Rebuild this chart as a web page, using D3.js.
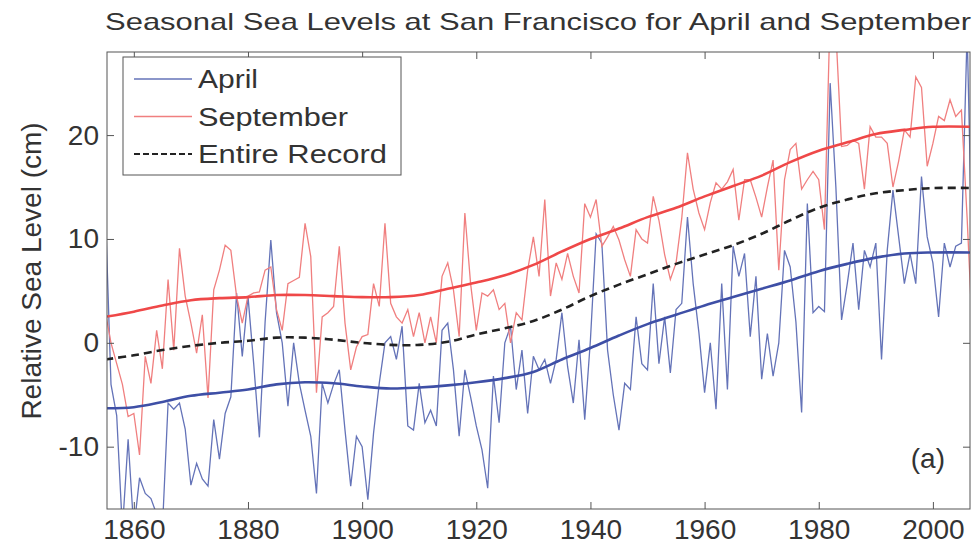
<!DOCTYPE html>
<html>
<head>
<meta charset="utf-8">
<title>Seasonal Sea Levels at San Francisco</title>
<script src="https://cdn.jsdelivr.net/npm/d3@7"></script>
<style>
  body { margin: 0; background: #fff; }
  text { font-family: "Liberation Sans", Arial, Helvetica, sans-serif; fill: #333; }
</style>
</head>
<body>
<script>
// yearly values (cm), 1855..2007
var firstYear = 1855
var april = [
  13, -4, -7, -18, -9.3, -18, -13, -14.5, -15, -16.5,
  -18, -5.8, -6.4, -5.8, -8.3, -13.7, -11.6, -13.1, -13.8, -7.4,
  -11.2, -6.8, -5.2, 4.8, -1.3, 4.5, -2.0, -9.1, 2.0, 9.9,
  2.9, 0.0, -6.1, 0.0, -3.9, -6.5, -9.0, -14.5, -3.9, -5.8,
  -4.0, -2.6, -8.4, -13.8, -9.0, -10.0, -15.1, -8.7, -3.9, 0.0,
  0.6, -1.6, 1.6, -8.0, -8.4, -3.9, -7.7, -6.5, -8.0, 1.2,
  1.9, -2.6, -9.0, -2.6, -5.2, -8.0, -10.3, -14.0, -3.2, -7.7,
  0.0, 1.6, -4.5, -0.7, -6.8, -1.3, -2.6, -1.6, -3.9, -1.6,
  2.9, -2.3, -5.8, 0.3, -7.4, 0.3, 10.5, 9.6, -0.7, -5.0,
  -8.4, -3.9, -4.5, 2.5, -2.0, -2.6, 5.7, -2.0, 2.5, -2.9,
  3.2, 3.8, 12.1, 5.7, 1.0, -4.8, 0.0, -6.4, 5.7, -4.5,
  9.3, 6.4, 8.6, 0.6, 6.4, -3.5, 0.9, -3.2, 0.0, 8.9,
  7.3, 2.0, -6.7, 13.4, 2.9, 3.5, 3.0, 25.0, 15.0, 2.2,
  5.7, 9.6, 3.2, 8.9, 7.3, 9.6, -1.6, 8.9, 14.7, 10.2,
  5.7, 8.6, 5.7, 16.0, 10.2, 7.7, 2.5, 9.6, 7.3, 9.3,
  9.6, 30.0, 5.0
]
var september = [
  3.0, 0.0, -2.0, -4.0, -7.1, -6.8, -10.8, -1.3, -3.9, 1.2,
  -2.5, 6.1, -0.7, 9.1, 4.5, 1.9, -1.0, 2.7, -5.3, 5.1,
  7.0, 9.4, 8.9, 4.5, 1.9, 4.5, 4.8, 4.9, 7.0, 7.3,
  3.2, 1.2, 5.7, 6.0, 6.3, 11.5, 8.3, -4.8, 2.5, 2.9,
  3.5, 9.3, 1.9, -2.6, -0.4, 0.6, 0.8, 5.7, 3.5, 11.5,
  3.8, 2.5, 1.9, 3.2, 0.6, 2.9, 0.0, 2.5, 0.0, 6.4,
  7.7, 5.1, 0.6, 12.5, 5.7, 1.2, 4.8, 4.5, 5.1, 3.2,
  3.8, 0.0, 2.9, 2.2, 7.0, 10.2, 6.4, 13.8, 4.5, 7.7,
  6.1, 8.6, 6.4, 4.8, 13.4, 12.1, 13.8, 9.3, 10.2, 11.2,
  9.9, 8.0, 6.4, 10.9, 10.0, 9.6, 14.1, 11.8, 8.5, 6.1,
  7.7, 12.0, 18.3, 14.8, 12.5, 10.9, 13.5, 15.4, 14.8, 15.5,
  16.7, 11.8, 15.7, 15.7, 14.0, 12.1, 15.0, 17.6, 7.0, 15.7,
  18.6, 19.2, 14.8, 15.7, 16.5, 15.7, 10.9, 32, 30, 18.9,
  19.0, 19.5, 19.2, 14.8, 20.8, 19.8, 19.8, 19.2, 15.0, 17.5,
  20.5, 19.8, 25.6, 24.6, 17.0, 19.2, 21.8, 21.4, 23.4, 21.8,
  22.4, 12.0, 0.0
]

// smoothed curves, read at knot years
var smoothYears = [1855, 1860, 1865, 1870, 1875, 1880, 1885, 1890, 1895, 1900,
  1905, 1910, 1915, 1920, 1925, 1930, 1935, 1940, 1945, 1950,
  1955, 1960, 1965, 1970, 1975, 1980, 1985, 1990, 1995, 2000, 2007]
var aprilSmooth = [-6.3, -6.2, -5.7, -5.1, -4.8, -4.5, -4.0, -3.8, -3.9, -4.2,
  -4.4, -4.3, -4.1, -3.8, -3.4, -2.8, -1.6, -0.5, 0.7, 1.8,
  2.7, 3.6, 4.4, 5.2, 6.0, 6.9, 7.6, 8.2, 8.6, 8.7, 8.7]
var septSmooth = [2.5, 3.0, 3.6, 4.1, 4.3, 4.4, 4.6, 4.6, 4.5, 4.4,
  4.4, 4.6, 5.2, 5.8, 6.5, 7.5, 8.8, 10.0, 11.0, 12.1,
  13.0, 14.1, 15.1, 16.1, 17.4, 18.5, 19.3, 20.1, 20.5, 20.8, 20.8]
var entireSmooth = [-1.6, -1.2, -0.7, -0.3, 0.0, 0.2, 0.5, 0.5, 0.3, 0.0,
  -0.2, -0.2, 0.1, 0.8, 1.4, 2.1, 3.2, 4.5, 5.6, 6.6,
  7.6, 8.5, 9.4, 10.5, 11.8, 13.0, 13.8, 14.4, 14.7, 14.9, 14.9]

var xTicks = [1860, 1880, 1900, 1920, 1940, 1960, 1980, 2000]
var yTicks = [-10, 0, 10, 20]

var width = 980, height = 549
var margin = {top: 52, right: 10, bottom: 40, left: 107}
var plotW = width - margin.left - margin.right
var plotH = height - margin.top - margin.bottom

var svg = d3.select('body').append('svg')
  .attr('width', width).attr('height', height)

var x = d3.scaleLinear().domain([1855.3, 2006.5]).range([margin.left, margin.left + plotW])
var y = d3.scaleLinear().domain([-16, 28]).range([margin.top + plotH, margin.top])

svg.append('defs').append('clipPath').attr('id', 'clip')
  .append('rect')
  .attr('x', margin.left).attr('y', margin.top)
  .attr('width', plotW).attr('height', plotH)

var plot = svg.append('g').attr('clip-path', 'url(#clip)')

var raw = d3.line().x(function(d, i) { return x(firstYear + i) }).y(function(d) { return y(d) })
var smooth = d3.line()
  .x(function(d, i) { return x(smoothYears[i]) })
  .y(function(d) { return y(d) })
  .curve(d3.curveCatmullRom)

plot.append('path').datum(april).attr('d', raw)
  .attr('fill', 'none').attr('stroke', '#6473b8').attr('stroke-width', 1.3)
plot.append('path').datum(september).attr('d', raw)
  .attr('fill', 'none').attr('stroke', '#f07f7f').attr('stroke-width', 1.3)

plot.append('path').datum(aprilSmooth).attr('d', smooth)
  .attr('fill', 'none').attr('stroke', '#3e4fa6').attr('stroke-width', 2.6)
plot.append('path').datum(septSmooth).attr('d', smooth)
  .attr('fill', 'none').attr('stroke', '#ef4848').attr('stroke-width', 2.6)
plot.append('path').datum(entireSmooth).attr('d', smooth)
  .attr('fill', 'none').attr('stroke', '#222').attr('stroke-width', 2.6)
  .attr('stroke-dasharray', '8,5')

// axes, matlab style: box with inward ticks on all sides
var plain = function(d) { return String(d) }
svg.append('g').attr('transform', 'translate(0,' + (margin.top + plotH) + ')')
  .call(d3.axisBottom(x).tickValues(xTicks).tickFormat(plain)
    .tickSizeInner(-7).tickSizeOuter(0).tickPadding(10))
svg.append('g').attr('transform', 'translate(0,' + margin.top + ')')
  .call(d3.axisTop(x).tickValues(xTicks).tickFormat('')
    .tickSizeInner(-7).tickSizeOuter(0))
svg.append('g').attr('transform', 'translate(' + margin.left + ',0)')
  .call(d3.axisLeft(y).tickValues(yTicks).tickFormat(plain)
    .tickSizeInner(-7).tickSizeOuter(0).tickPadding(8))
svg.append('g').attr('transform', 'translate(' + (margin.left + plotW) + ',0)')
  .call(d3.axisRight(y).tickValues(yTicks).tickFormat('')
    .tickSizeInner(-7).tickSizeOuter(0))

svg.selectAll('.domain').remove()
svg.selectAll('.tick line').attr('stroke', '#555')
svg.selectAll('.tick text').attr('font-size', 28).attr('fill', '#333')
  .attr('font-family', '"Liberation Sans", Arial, sans-serif')

svg.append('rect')
  .attr('x', margin.left).attr('y', margin.top)
  .attr('width', plotW).attr('height', plotH)
  .attr('fill', 'none').attr('stroke', '#555').attr('stroke-width', 1)

// title and labels
svg.append('text')
  .attr('x', 538).attr('y', 30)
  .attr('text-anchor', 'middle')
  .attr('font-size', 24)
  .attr('textLength', 866).attr('lengthAdjust', 'spacingAndGlyphs')
  .text('Seasonal Sea Levels at San Francisco for April and September')

svg.append('text')
  .attr('transform', 'translate(41,' + 271 + ') rotate(-90)')
  .attr('text-anchor', 'middle')
  .attr('font-size', 28)
  .text('Relative Sea Level (cm)')

svg.append('text')
  .attr('x', 945).attr('y', 468)
  .attr('text-anchor', 'end')
  .attr('font-size', 28)
  .text('(a)')

// legend
var legendItems = [
  {label: 'April', color: '#6473b8', dash: null, w: 60},
  {label: 'September', color: '#f07f7f', dash: null, w: 150},
  {label: 'Entire Record', color: '#222', dash: '6,3', w: 189}
]
var legend = svg.append('g')
legend.append('rect')
  .attr('x', 123).attr('y', 57).attr('width', 278).attr('height', 118)
  .attr('fill', '#fff').attr('stroke', '#555').attr('stroke-width', 1)
legendItems.forEach(function(d, i) {
  var ly = 79 + i * 37.5
  legend.append('line')
    .attr('x1', 134).attr('x2', 192).attr('y1', ly).attr('y2', ly)
    .attr('stroke', d.color).attr('stroke-width', i == 2 ? 2.2 : 1.5)
    .attr('stroke-dasharray', d.dash)
  legend.append('text')
    .attr('x', 198).attr('y', ly + 9)
    .attr('font-size', 26)
    .attr('textLength', d.w).attr('lengthAdjust', 'spacingAndGlyphs')
    .text(d.label)
})
</script>
</body>
</html>
